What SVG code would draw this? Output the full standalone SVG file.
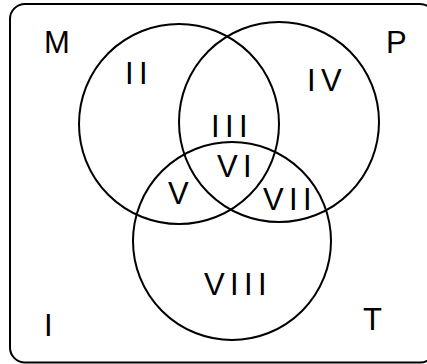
<svg xmlns="http://www.w3.org/2000/svg" width="427" height="364" viewBox="0 0 427 364">
  <style>
    .set { fill: none; stroke: #000; stroke-width: 2; }
    .frame { fill: none; stroke: #000; stroke-width: 2; }
    .lbl { font-family: "Liberation Sans", Arial, sans-serif; font-size: 31px; fill: #000; letter-spacing: 5.4px; }
  </style>
  <rect width="427" height="364" fill="#fff"/>
  <g id="frame">
    <rect class="frame" x="10" y="4" width="425" height="358.5" rx="15" ry="15"/>
  </g>
  <g id="set-M">
    <circle class="set" cx="179" cy="124" r="100"/>
  </g>
  <g id="set-P">
    <circle class="set" cx="279" cy="122" r="100"/>
  </g>
  <g id="set-T">
    <circle class="set" cx="232" cy="241" r="99"/>
  </g>
  <g id="labels">
    <text class="lbl" x="44" y="53">M</text>
    <text class="lbl" x="386" y="53">P</text>
    <text class="lbl" x="363" y="330">T</text>
    <text class="lbl" x="44" y="336">I</text>
    <text class="lbl" x="125" y="84">II</text>
    <text class="lbl" x="211" y="137">III</text>
    <text class="lbl" x="307" y="91">IV</text>
    <text class="lbl" x="168" y="204">V</text>
    <text class="lbl" x="217" y="177">VI</text>
    <text class="lbl" x="263" y="210">VII</text>
    <text class="lbl" x="204" y="295">VIII</text>
  </g>
</svg>
